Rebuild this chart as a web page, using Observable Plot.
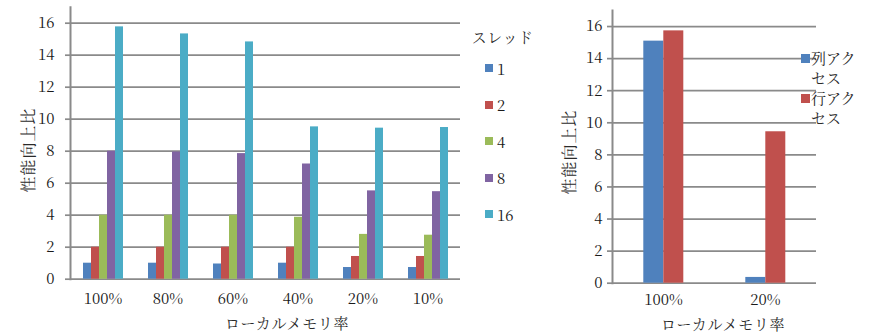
<!DOCTYPE html>
<html><head><meta charset="utf-8">
<script src="https://cdn.jsdelivr.net/npm/d3@7"></script>
<script src="https://cdn.jsdelivr.net/npm/@observablehq/plot@0.6"></script>
<style>
body{margin:0;background:#fff;}
#root{position:relative;width:872px;height:332px;overflow:hidden;font-family:"Noto Serif CJK JP","Liberation Serif",serif;color:#1a1a1a;background:#fff;}
.abs{position:absolute;white-space:nowrap;line-height:1;}
.jp{color:#2a2a2a;}
svg{position:absolute;top:0;}
</style></head><body><div id="root"></div>
<script>
// ---- data ----
const memRates = ["100%","80%","60%","40%","20%","10%"];
const threads = ["1","2","4","8","16"];
const threadColors = ["#4F81BD","#C0504D","#9BBB59","#8064A2","#4BACC6"];
const speedup1  = [1.0, 1.0, 0.95, 1.0, 0.73, 0.73];
const speedup2  = [2.0, 2.0, 2.0, 2.0, 1.42, 1.42];
const speedup4  = [4.0, 4.0, 4.0, 3.87, 2.8, 2.75];
const speedup8  = [8.0, 7.95, 7.85, 7.2, 5.52, 5.47];
const speedup16 = [15.77, 15.33, 14.83, 9.52, 9.44, 9.48];
const accessRates = ["100%","20%"];
const accessTypes = ["列アクセス","行アクセス"];
const accessColors = ["#4F81BD","#C0504D"];
const colAccess = [15.09, 0.36];
const rowAccess = [15.73, 9.44];
const yTicks = [0,2,4,6,8,10,12,14,16];
const yLabel = "性能向上比";
const xLabel = "ローカルメモリ率";
const legendTitle = "スレッド";

// ---- tables ----
const threadSeries = [speedup1, speedup2, speedup4, speedup8, speedup16];
const threadData = [];
memRates.forEach((c, i) => threads.forEach((t, j) => threadData.push({cat: c, series: t, value: threadSeries[j][i]})));
const accessSeries = [colAccess, rowAccess];
const accessData = [];
accessRates.forEach((c, i) => accessTypes.forEach((t, j) => accessData.push({cat: c, series: t, value: accessSeries[j][i]})));

const GRID = "#8a8a8a";
const NUMFONT = '"Noto Serif CJK JP","Liberation Serif",serif';
function chart({data, fxDomain, xDomain, colors, width, marginLeft, marginRight, marginTop, marginBottom, tickPadding, fxPadding}) {
  return Plot.plot({
    width, height: 332, marginLeft, marginRight, marginTop, marginBottom,
    style: {fontFamily: NUMFONT, fontSize: "15px", color: "#1a1a1a", background: "transparent", overflow: "visible"},
    fx: {domain: fxDomain, padding: 0, axis: null},
    x: {domain: xDomain, paddingInner: 0, paddingOuter: 1.5, axis: null},
    y: {domain: [0, 17], axis: null},
    color: {domain: xDomain, range: colors},
    marks: [
      Plot.gridY(yTicks, {stroke: GRID, strokeOpacity: 1, strokeWidth: 1.7}),
      Plot.axisY(yTicks, {tickSize: 5, tickPadding, stroke: GRID, strokeWidth: 1.7, fill: "#1a1a1a", label: null, fontFamily: NUMFONT}),
      Plot.barY(data, {fx: "cat", x: "series", y: "value", fill: "series"}),
      Plot.frame({anchor: "left", facetAnchor: "left", stroke: GRID, strokeWidth: 2}),
      Plot.axisFx({anchor: "bottom", tickSize: 0, tickPadding: fxPadding, label: null, fill: "#1a1a1a", fontFamily: NUMFONT})
    ]
  });
}

const root = document.getElementById("root");
const left = chart({data: threadData, fxDomain: memRates, xDomain: threads, colors: threadColors,
  width: 470, marginLeft: 68, marginRight: 8, marginTop: 6.7, marginBottom: 53.3, tickPadding: 11, fxPadding: 14});
left.style.left = "0px";
root.appendChild(left);
const right = chart({data: accessData, fxDomain: accessRates, xDomain: accessTypes, colors: accessColors,
  width: 312, marginLeft: 51.7, marginRight: 55.3, marginTop: 10, marginBottom: 49.3, tickPadding: 5, fxPadding: 11});
right.style.left = "560px";
root.appendChild(right);

function addText(txt, x, y, size, cls, extra, spacing) {
  const d = document.createElement("div");
  d.className = "abs " + (cls || "");
  d.textContent = txt;
  d.style.left = x + "px"; d.style.top = y + "px"; d.style.fontSize = size + "px";
  if (spacing) d.style.letterSpacing = spacing + "px";
  d.style.transform = "translate(-50%,-50%)" + (extra || "");
  root.appendChild(d);
  return d;
}
// axis titles
addText(yLabel, 27.5, 150, 16, "jp", " rotate(-90deg)", 1);
addText(yLabel, 568.5, 152, 16, "jp", " rotate(-90deg)", 1);
addText(xLabel, 287, 322, 15, "jp", "", 0.6);
addText(xLabel, 723, 323, 15, "jp", "", 0.6);

// left legend
const lt = document.createElement("div");
lt.className = "abs jp"; lt.textContent = legendTitle;
lt.style.cssText += "left:472px;top:30px;font-size:14.5px;letter-spacing:1px;";
root.appendChild(lt);
threads.forEach((t, i) => {
  const cy = 68 + i * 36.6;
  const sw = document.createElement("div");
  sw.className = "abs";
  sw.style.cssText += `left:485px;top:${cy - 4}px;width:8px;height:8px;background:${threadColors[i]};`;
  root.appendChild(sw);
  const lb = document.createElement("div");
  lb.className = "abs"; lb.textContent = t;
  lb.style.cssText += `left:497px;top:${cy - 9.5}px;font-size:15px;line-height:19px;`;
  root.appendChild(lb);
});
// right legend
accessTypes.forEach((t, i) => {
  const cy = 58 + i * 40;
  const sw = document.createElement("div");
  sw.className = "abs";
  sw.style.cssText += `left:801px;top:${cy - 4.5}px;width:9px;height:9px;background:${accessColors[i]};`;
  root.appendChild(sw);
  const lb = document.createElement("div");
  lb.className = "jp"; lb.textContent = t;
  lb.style.cssText = `position:absolute;left:811px;top:${cy - 10}px;width:50px;font-size:15px;line-height:20px;white-space:normal;word-break:break-all;color:#2a2a2a;`;
  root.appendChild(lb);
});
</script></body></html>
